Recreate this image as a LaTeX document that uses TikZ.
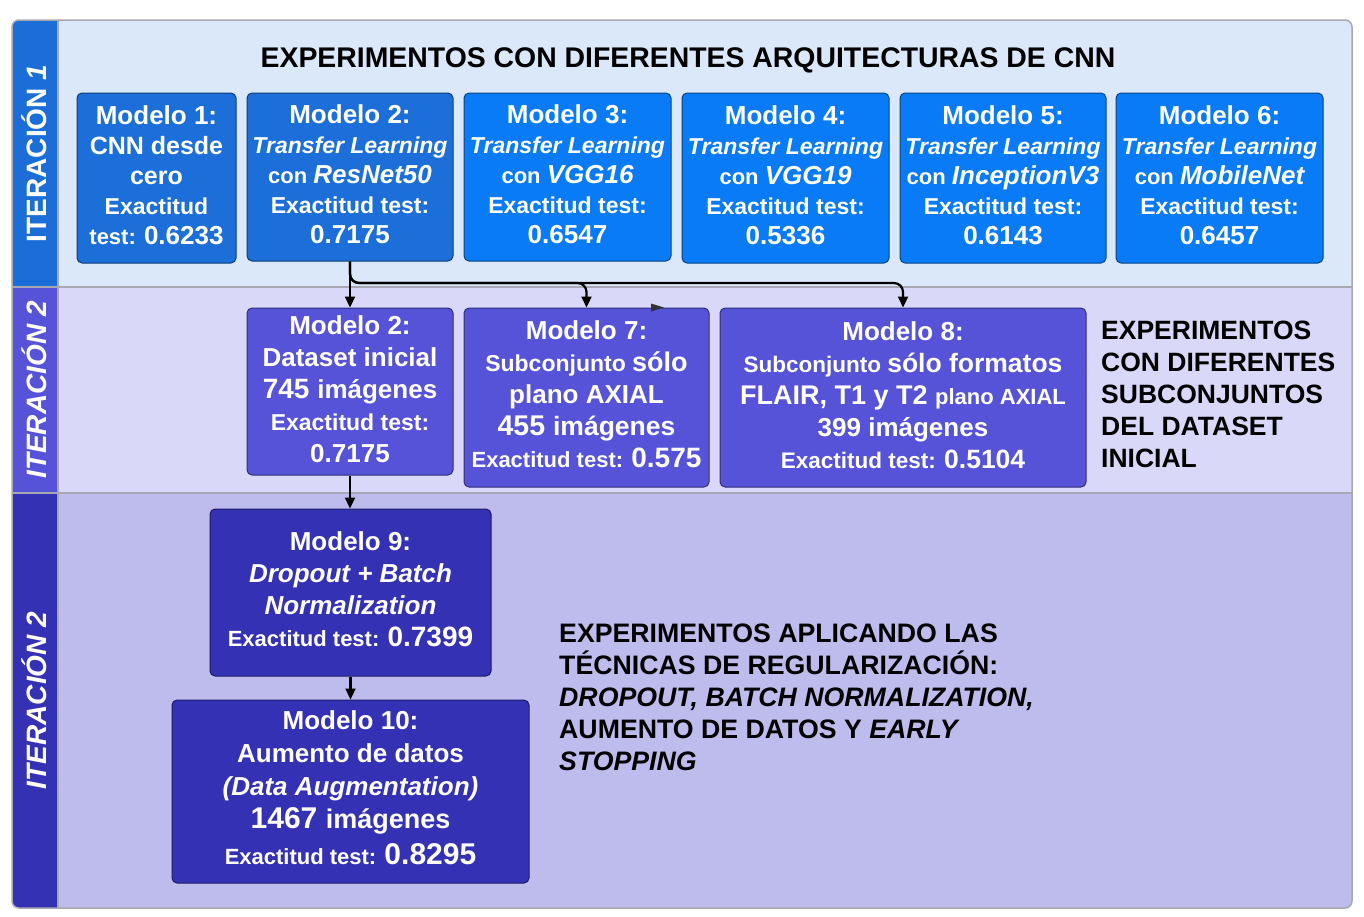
\documentclass[tikz,border=0pt]{standalone}
\usepackage{fontspec}
\setmainfont{Liberation Sans}
\usetikzlibrary{arrows.meta}

\definecolor{bgA}{HTML}{DAE8FA}
\definecolor{bgB}{HTML}{D9D8F8}
\definecolor{bgC}{HTML}{BEBCEC}
\definecolor{barA}{HTML}{1B6ED7}
\definecolor{barB}{HTML}{5753D8}
\definecolor{barC}{HTML}{3531B5}
\definecolor{boxA}{HTML}{1C6FD9}
\definecolor{boxAA}{HTML}{0A7BF6}
\definecolor{boxB}{HTML}{5753D9}
\definecolor{boxC}{HTML}{3531B5}
\definecolor{frameg}{HTML}{A8A8B4}

% inline size change, keeps the surrounding line spacing
\newcommand\sz[1]{\fontsize{#1}{#1}\selectfont}

\tikzset{
  mbox/.style={draw=#1!55!black, fill=#1, rounded corners=5pt, line width=1pt, inner sep=0pt},
  btext/.style={text=white, align=center, inner sep=0pt},
  rowA/.style={font=\fontsize{26}{30}\selectfont\bfseries},
  rowB/.style={font=\fontsize{26}{32}\selectfont\bfseries},
  rowC/.style={font=\fontsize{26}{32}\selectfont\bfseries},
  itlabel/.style={rotate=90, text=white, font=\fontsize{28}{28}\selectfont\bfseries},
  heading/.style={text=black, align=left, inner sep=0pt, anchor=north west},
  conn/.style={line width=2.2pt, draw=black, -{Triangle[length=11pt,width=10pt]}},
}

\begin{document}
\begin{tikzpicture}[x=1pt, y=-1pt]
\useasboundingbox (0,0) rectangle (1364,916);

% row bands and iteration column
\begin{scope}
  \clip[rounded corners=7] (12,20) rectangle (1352,908);
  \fill[bgA] (58,20) rectangle (1352,287);
  \fill[bgB] (58,287) rectangle (1352,493);
  \fill[bgC] (58,493) rectangle (1352,908);
  \fill[barA] (12,20) rectangle (58,287);
  \fill[barB] (12,287) rectangle (58,493);
  \fill[barC] (12,493) rectangle (58,908);
\end{scope}
\draw[frameg, line width=1.5pt] (12,287) -- (1352,287) (12,493) -- (1352,493) (58,20) -- (58,908);
\draw[frameg, line width=1.5pt, rounded corners=7] (12,20) rectangle (1352,908);

% iteration labels
\node[itlabel] (lab1) at (34,153.5) {ITERACIÓN {\itshape 1}};
\node[itlabel] (lab2) at (34,390) {\itshape ITERACIÓN 2};
\node[itlabel] (lab3) at (34,700.5) {\itshape ITERACIÓN 2};

% first iteration: architectures
\node[font=\fontsize{28.4}{28.4}\selectfont\bfseries, anchor=base] (title) at (688,67)
  {EXPERIMENTOS CON DIFERENTES ARQUITECTURAS DE CNN};

\node[mbox=boxA,  minimum width=159, minimum height=170] (m1) at (156.5,178) {};
\node[mbox=boxA,  minimum width=206, minimum height=168] (m2) at (350,177) {};
\node[mbox=boxAA, minimum width=207, minimum height=168] (m3) at (567.5,177) {};
\node[mbox=boxAA, minimum width=207, minimum height=170] (m4) at (785.5,178) {};
\node[mbox=boxAA, minimum width=206, minimum height=170] (m5) at (1003,178) {};
\node[mbox=boxAA, minimum width=207, minimum height=170] (m6) at (1219.5,178) {};

\node[btext, rowA] (m1t) at ([yshift=3pt]m1.center)
  {Modelo 1:\\{\sz{25}CNN desde}\\{\sz{25}cero}\\{\sz{23}Exactitud}\\{\sz{22}test: }0.6233};
\node[btext, rowA] (m2t) at ([yshift=3pt]m2.center)
  {Modelo 2:\\{\sz{23}\itshape Transfer Learning}\\{\sz{22}con }{\itshape ResNet50}\\{\sz{23}Exactitud test:}\\0.7175};
\node[btext, rowA] (m3t) at ([yshift=3pt]m3.center)
  {Modelo 3:\\{\sz{23}\itshape Transfer Learning}\\{\sz{22}con }{\itshape VGG16}\\{\sz{23}Exactitud test:}\\0.6547};
\node[btext, rowA] (m4t) at ([yshift=3pt]m4.center)
  {Modelo 4:\\{\sz{23}\itshape Transfer Learning}\\{\sz{22}con }{\itshape VGG19}\\{\sz{23}Exactitud test:}\\0.5336};
\node[btext, rowA] (m5t) at ([yshift=3pt]m5.center)
  {Modelo 5:\\{\sz{23}\itshape Transfer Learning}\\{\sz{22}con }{\itshape InceptionV3}\\{\sz{23}Exactitud test:}\\0.6143};
\node[btext, rowA] (m6t) at ([yshift=3pt]m6.center)
  {Modelo 6:\\{\sz{23}\itshape Transfer Learning}\\{\sz{22}con }{\itshape MobileNet}\\{\sz{23}Exactitud test:}\\0.6457};

% second iteration: dataset subsets
\node[mbox=boxB, minimum width=206, minimum height=167] (m2b) at (350,391.5) {};
\node[mbox=boxB, minimum width=245, minimum height=179] (m7) at (586.5,397.5) {};
\node[mbox=boxB, minimum width=366, minimum height=179] (m8) at (903,397.5) {};

\node[btext, rowB] (m2bt) at ([yshift=2.5pt]m2b.center)
  {Modelo 2:\\Dataset inicial\\{\sz{28}745 }imágenes\\{\sz{23}Exactitud test:}\\0.7175};
\node[btext, rowB] (m7t) at ([yshift=3pt]m7.center)
  {Modelo 7:\\{\sz{23}Subconjunto }{\sz{27}sólo}\\plano AXIAL\\{\sz{28.5}455 }{\sz{26.5}imágenes}\\{\sz{22}Exactitud test: }{\sz{28}0.575}};
\node[btext, rowB] (m8t) at ([yshift=2.5pt]m8.center)
  {Modelo 8:\\{\sz{22.5}Subconjunto }{\sz{26.5}sólo formatos}\\{\sz{27}FLAIR, T1 y T2 }{\sz{22}plano AXIAL}\\399 imágenes\\{\sz{22.5}Exactitud test: }{\sz{26.5}0.5104}};

\node[heading, font=\fontsize{26.5}{32}\selectfont\bfseries] (txtB) at (1101,320.5)
  {EXPERIMENTOS\\CON DIFERENTES\\SUBCONJUNTOS\\DEL DATASET\\INICIAL};

% third iteration: regularization
\node[mbox=boxC, minimum width=281, minimum height=167] (m9) at (350.5,592.5) {};
\node[mbox=boxC, minimum width=357, minimum height=183] (m10) at (350.5,791.5) {};

\node[btext, rowC] (m9t) at ([yshift=3pt]m9.center)
  {Modelo 9:\\{\itshape Dropout + Batch}\\{\itshape Normalization}\\{\sz{22}Exactitud test: }{\sz{28}0.7399}};
\node[btext, font=\fontsize{26}{33}\selectfont\bfseries] (m10t) at ([yshift=3.5pt]m10.center)
  {Modelo 10:\\Aumento de datos\\{\itshape (Data Augmentation)}\\{\sz{30}1467 }{\sz{27}imágenes}\\[3pt]{\sz{22}Exactitud test: }{\sz{30}0.8295}};

\node[heading, font=\fontsize{26.7}{32}\selectfont\bfseries] (txtC) at (559,623.5)
  {EXPERIMENTOS APLICANDO LAS\\TÉCNICAS DE REGULARIZACIÓN:\\{\itshape DROPOUT, BATCH NORMALIZATION,}\\AUMENTO DE DATOS Y {\itshape EARLY}\\{\itshape STOPPING}};

% connectors
\coordinate (split) at (350,283);
\draw[conn] (m2.south) -- (m2b.north);
\draw[conn, rounded corners=9pt] (m2.south) |- (m8.north |- split) -- (m8.north);
\draw[conn, rounded corners=9pt] (m2.south) |- (m7.north |- split) -- (m7.north);
\draw[conn] (m2b.south) -- (m2b.south |- m9.north);
\draw[conn] (m9.south) -- (m9.south |- m10.north);

% loose arrow tip above Modelo 7
\fill[black!80] (651,303.5) -- (664,307.5) -- (651,311.5) -- cycle;
\end{tikzpicture}
\end{document}
